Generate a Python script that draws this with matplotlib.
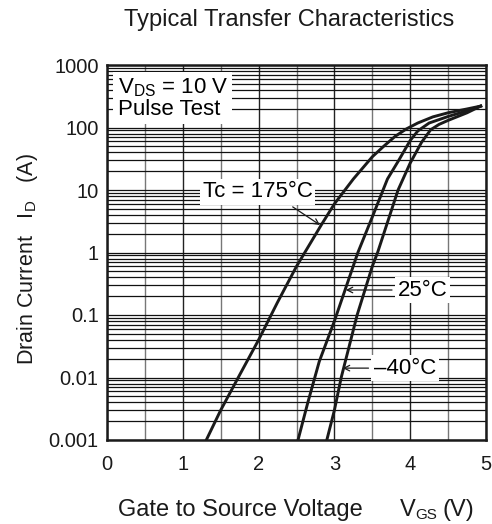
import matplotlib
matplotlib.use('Agg')
import matplotlib.pyplot as plt
import numpy as np
from matplotlib.ticker import LogLocator, MultipleLocator, NullFormatter, FixedLocator, FixedFormatter

plt.rcParams['font.family'] = ['Liberation Sans', 'DejaVu Sans']
plt.rcParams['mathtext.fontset'] = 'custom'
plt.rcParams['mathtext.rm'] = 'Liberation Sans'
plt.rcParams['mathtext.it'] = 'Liberation Sans:italic'
plt.rcParams['mathtext.bf'] = 'Liberation Sans:bold'

# ---- data ----
vgs_175 = [1.31, 1.5, 1.75, 2.0, 2.25, 2.5, 2.83, 3.0, 3.25, 3.5, 3.65, 3.8, 3.95, 4.1, 4.3, 4.5, 4.75, 4.93]
id_175 = [0.001, 0.003, 0.011, 0.04, 0.16, 0.6, 2.8, 6.0, 15, 34, 50, 72, 95, 118, 148, 172, 198, 220]

vgs_25 = [2.52, 2.65, 2.8, 3.0, 3.14, 3.31, 3.5, 3.7, 3.85, 4.0, 4.1, 4.25, 4.5, 4.75, 4.93]
id_25 = [0.001, 0.004, 0.018, 0.08, 0.25, 1.0, 3.7, 15, 30, 62, 88, 118, 150, 185, 220]

vgs_m40 = [2.9, 3.0, 3.09, 3.3, 3.5, 3.57, 3.84, 4.0, 4.15, 4.27, 4.38, 4.5, 4.75, 4.93]
id_m40 = [0.001, 0.003, 0.01, 0.1, 0.6, 1.0, 10, 27, 58, 92, 112, 130, 172, 220]

x_ticks = [0, 1, 2, 3, 4, 5]
y_ticks = [0.001, 0.01, 0.1, 1, 10, 100, 1000]
y_tick_labels = ['0.001', '0.01', '0.1', '1', '10', '100', '1000']

fig = plt.figure(figsize=(4.92, 5.24), dpi=100)
ax = fig.add_axes([107/492, 84/524, 379/492, 375/524])
ax.set_yscale('log')
ax.set_xlim(0, 5)
ax.set_ylim(0.001, 1000)

ax.xaxis.set_major_locator(FixedLocator(x_ticks))
ax.xaxis.set_minor_locator(MultipleLocator(0.5))
ax.yaxis.set_major_locator(FixedLocator(y_ticks))
ax.yaxis.set_major_formatter(FixedFormatter(y_tick_labels))
ax.yaxis.set_minor_locator(LogLocator(base=10, subs=np.arange(2, 10), numticks=30))
ax.yaxis.set_minor_formatter(NullFormatter())

ax.set_axisbelow(True)
ax.grid(which='major', axis='x', color='#222222', lw=1.0)
ax.grid(which='minor', axis='x', color='#777777', lw=1.0)
ax.grid(which='both', axis='y', color='#111111', lw=0.9)

ax.tick_params(which='both', length=0, labelsize=14.5, colors='#1a1a1a')
ax.tick_params(axis='x', pad=11)
ax.tick_params(axis='y', pad=6)
for s in ax.spines.values():
    s.set_linewidth(1.8)
    s.set_color('#1a1a1a')

for v, i in [(vgs_175, id_175), (vgs_25, id_25), (vgs_m40, id_m40)]:
    ax.plot(v, i, color='#1a1a1a', lw=2.1, zorder=3, solid_joinstyle='round')

fs = 16
box = dict(facecolor='white', edgecolor='none', pad=2)
ax.text(0.14, 10**2.47, 'V$_{\\rm DS}$ = 10 V\nPulse Test', fontsize=fs, ha='left', va='center',
        linespacing=1.0, bbox=dict(facecolor='white', edgecolor='none', pad=3), zorder=4)

ax.text(1.99, 10**0.97, 'Tc = 175°C', fontsize=fs, ha='center', va='center', bbox=box, zorder=4)
ax.annotate('', xy=(2.81, 10**0.44), xytext=(2.45, 10**0.73),
            arrowprops=dict(arrowstyle='->', lw=0.9, color='#1a1a1a', shrinkA=0, shrinkB=0), zorder=4)

ax.text(4.16, 10**-0.6, '25°C', fontsize=fs, ha='center', va='center', bbox=box, zorder=4)
ax.annotate('', xy=(3.15, 10**-0.6), xytext=(3.76, 10**-0.6),
            arrowprops=dict(arrowstyle='->', lw=0.9, color='#1a1a1a', shrinkA=0, shrinkB=0), zorder=4)

ax.text(3.93, 10**-1.85, '\u201340°C', fontsize=fs, ha='center', va='center', bbox=box, zorder=4)
ax.annotate('', xy=(3.11, 10**-1.85), xytext=(3.45, 10**-1.85),
            arrowprops=dict(arrowstyle='->', lw=0.9, color='#1a1a1a', shrinkA=0, shrinkB=0), zorder=4)

fig.text(289/492, 1 - 20/524, 'Typical Transfer Characteristics', fontsize=17, ha='center', va='center', color='#1a1a1a')

fig.text(28/492, 1 - 259/524, 'Drain Current   I$_{\\rm D}$   (A)', fontsize=15.5, rotation=90,
         ha='center', va='center', color='#1a1a1a')

# x label in pieces
xl_fs = 17
ly = 1 - 510/524
fig.text(118/492, ly, 'Gate to Source Voltage', fontsize=xl_fs, ha='left', va='center', color='#1a1a1a')
fig.text(400/492, ly, 'V', fontsize=xl_fs, ha='left', va='center', color='#1a1a1a')
fig.text(415/492, 1 - 515/524, 'GS', fontsize=11, ha='left', va='center', color='#1a1a1a')
fig.text(442/492, ly, '(V)', fontsize=xl_fs, ha='left', va='center', color='#1a1a1a')

fig.savefig('out.png', dpi=100, facecolor='white')
